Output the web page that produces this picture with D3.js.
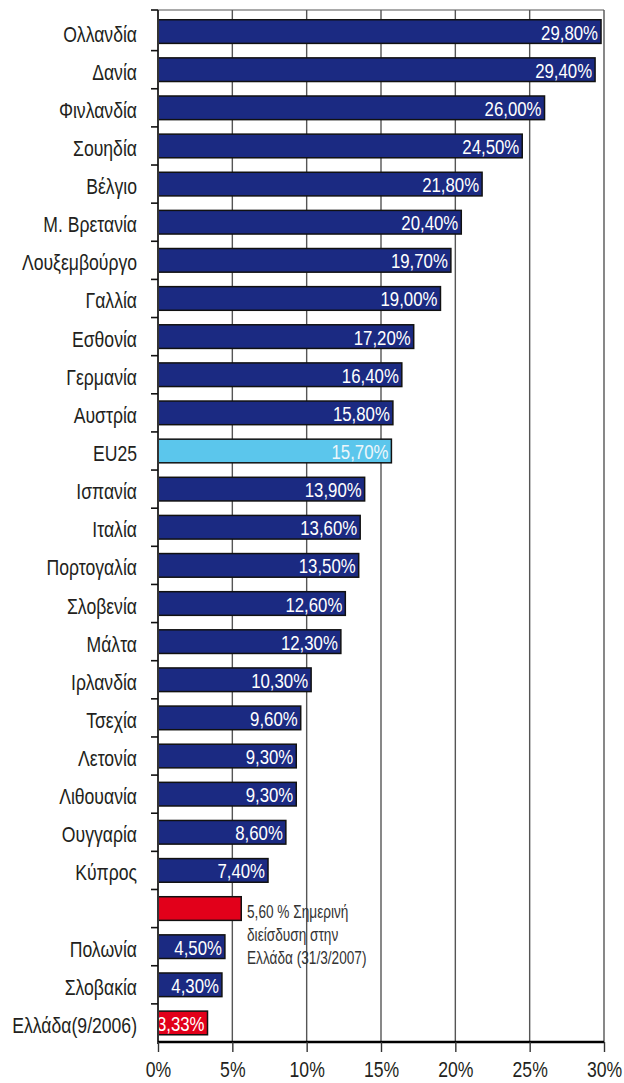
<!DOCTYPE html>
<html>
<head>
<meta charset="utf-8">
<script src="https://cdn.jsdelivr.net/npm/d3@7"></script>
<style>
  body { margin: 0; background: #fff; }
  text { font-family: "Liberation Sans", Arial, sans-serif; }
</style>
</head>
<body>
<div id="chart"></div>
<script>
// countries, top to bottom (empty one = current Greece bar)
var countries = ["Ολλανδία", "Δανία", "Φινλανδία", "Σουηδία", "Βέλγιο", "Μ. Βρετανία",
  "Λουξεμβούργο", "Γαλλία", "Εσθονία", "Γερμανία", "Αυστρία", "EU25", "Ισπανία",
  "Ιταλία", "Πορτογαλία", "Σλοβενία", "Μάλτα", "Ιρλανδία", "Τσεχία", "Λετονία",
  "Λιθουανία", "Ουγγαρία", "Κύπρος", "", "Πολωνία", "Σλοβακία", "Ελλάδα(9/2006)"];
var values = [29.8, 29.4, 26.0, 24.5, 21.8, 20.4, 19.7, 19.0, 17.2, 16.4, 15.8, 15.7, 13.9,
  13.6, 13.5, 12.6, 12.3, 10.3, 9.6, 9.3, 9.3, 8.6, 7.4, 5.6, 4.5, 4.3, 3.33];
var xTicks = [0, 5, 10, 15, 20, 25, 30];
var noteLines = ["5,60 % Σημερινή", "διείσδυση στην", "Ελλάδα (31/3/2007)"];

var data = countries.map(function (c, i) { return {i: i, name: c, value: values[i]}; });

var width = 624, height = 1083;
var mLeft = 158, mRight = 604, mTop = 12.5, mBottom = 1042;
var sx = 0.8; // fake condensed font

var svg = d3.select("#chart").append("svg")
  .attr("width", width).attr("height", height);

var x = d3.scaleLinear().domain([0, 30]).range([mLeft, mRight]);
var y = d3.scaleBand().domain(d3.range(data.length)).range([mTop, mBottom]).paddingInner(0.38).paddingOuter(0.19);
var step = y.step();

// frame top
svg.append("line").attr("x1", mLeft).attr("x2", mRight).attr("y1", 10).attr("y2", 10)
  .attr("stroke", "#555").attr("stroke-width", 1.2);

// gridlines
svg.append("g").selectAll("line").data(xTicks.slice(1)).enter().append("line")
  .attr("x1", function (d) { return x(d); }).attr("x2", function (d) { return x(d); })
  .attr("y1", 10).attr("y2", mBottom)
  .attr("stroke", "#555").attr("stroke-width", 1.4);

function colorOf(d) {
  if (d.name === "EU25") return "#5bc6ec";
  if (d.name === "" || d.i === data.length - 1) return "#e2001a";
  return "#1b2a82";
}

// bars
svg.append("g").selectAll("rect").data(data).enter().append("rect")
  .attr("x", x(0))
  .attr("y", function (d) { return y(d.i); })
  .attr("width", function (d) { return x(d.value) - x(0); })
  .attr("height", y.bandwidth())
  .attr("fill", colorOf)
  .attr("stroke", "#111").attr("stroke-width", 1.5);

// value labels
var fmt = d3.format(".2f");
svg.append("g").selectAll("text").data(data.filter(function (d) { return d.name !== ""; })).enter().append("text")
  .attr("transform", function (d) {
    return "translate(" + (x(d.value) - 3) + "," + (y(d.i) + y.bandwidth() / 2 + 8) + ") scale(" + sx + ",1)";
  })
  .attr("text-anchor", "end")
  .attr("fill", function (d) { return d.name === "EU25" ? "#eef6fa" : "#fff"; })
  .style("font-size", "21px")
  .text(function (d) { return fmt(d.value).replace(".", ",") + "%"; });

// category labels
svg.append("g").selectAll("text").data(data).enter().append("text")
  .attr("transform", function (d) {
    return "translate(137," + (y(d.i) + y.bandwidth() / 2 + 10) + ") scale(" + sx + ",1)";
  })
  .attr("text-anchor", "end")
  .attr("fill", "#231f20")
  .style("font-size", "22px")
  .text(function (d) { return d.name; });

// left axis with ticks at row boundaries
svg.append("line").attr("x1", mLeft).attr("x2", mLeft).attr("y1", 10).attr("y2", mBottom + 2)
  .attr("stroke", "#333").attr("stroke-width", 2);
var bounds = [10].concat(d3.range(1, data.length).map(function (i) { return y(i) - step * y.paddingInner() / 2; }));
svg.append("g").selectAll("line").data(bounds).enter().append("line")
  .attr("x1", 151).attr("x2", mLeft).attr("y1", function (d) { return d; }).attr("y2", function (d) { return d; })
  .attr("stroke", "#111").attr("stroke-width", 1.6);

// annotation for the red bar
var noteRow = data.find(function (d) { return d.name === ""; });
svg.append("g").selectAll("text").data(noteLines).enter().append("text")
  .attr("transform", function (d, k) {
    return "translate(247," + (y(noteRow.i) + 21 + k * 23) + ") scale(0.78,1)";
  })
  .attr("fill", "#333")
  .style("font-size", "17.5px")
  .text(function (d) { return d; });

// x axis
var xAxis = svg.append("g").attr("transform", "translate(0," + mBottom + ")")
  .call(d3.axisBottom(x).tickValues(xTicks).tickSize(10).tickFormat(function (d) { return d + "%"; }));
xAxis.select(".domain").attr("stroke", "#000").attr("stroke-width", 2.5).attr("d", "M" + mLeft + ",0H" + mRight);
xAxis.selectAll(".tick line").attr("stroke", "#333").attr("stroke-width", 1.4);
xAxis.selectAll(".tick text").attr("y", 0).attr("dy", 0)
  .attr("transform", "translate(0,35) scale(" + sx + ",1)")
  .attr("fill", "#231f20")
  .style("font-family", "'Liberation Sans', sans-serif").style("font-size", "22px");
</script>
</body>
</html>
